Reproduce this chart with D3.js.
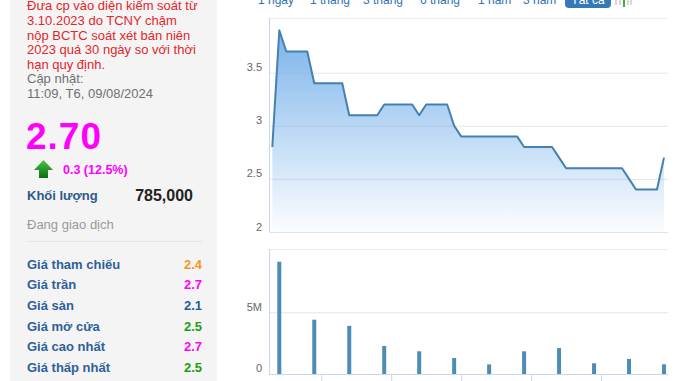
<!DOCTYPE html>
<html><head><meta charset="utf-8">
<script src="https://cdn.jsdelivr.net/npm/d3@7"></script>
<style>
html,body{margin:0;padding:0;background:#fff;}
svg{display:block;font-family:"Liberation Sans",Arial,sans-serif;}
</style></head>
<body><svg id="c" width="678" height="381"></svg>
<script>
// ---- data ----
const noticeLines = ["Đưa cp vào diện kiểm soát từ","3.10.2023 do TCNY chậm","nộp BCTC soát xét bán niên","2023 quá 30 ngày so với thời","hạn quy định."];
const updateLines = ["Cập nhật:","11:09, T6, 09/08/2024"];
const lastPrice = "2.70";
const change = "0.3 (12.5%)";
const volumeLabel = "Khối lượng";
const volumeValue = "785,000";
const statusText = "Đang giao dịch";
const infoLabels = ["Giá tham chiếu","Giá trần","Giá sàn","Giá mở cửa","Giá cao nhất","Giá thấp nhất"];
const infoValues = ["2.4","2.7","2.1","2.5","2.7","2.5"];
const infoColors = ["#f7941d","#ff00ff","#1f5f99","#1c9e10","#ff00ff","#1c9e10"];
const tabs = ["1 ngày","1 tháng","3 tháng","6 tháng","1 năm","3 năm"];
const activeTab = "Tất cả";
const prices = [2.8,3.9,3.7,3.7,3.7,3.7,3.4,3.4,3.4,3.4,3.4,3.1,3.1,3.1,3.1,3.1,3.2,3.2,3.2,3.2,3.2,3.1,3.2,3.2,3.2,3.2,3.0,2.9,2.9,2.9,2.9,2.9,2.9,2.9,2.9,2.9,2.8,2.8,2.8,2.8,2.8,2.7,2.6,2.6,2.6,2.6,2.6,2.6,2.6,2.6,2.6,2.5,2.4,2.4,2.4,2.4,2.7];
const volumeDays = [1,6,11,16,21,26,31,36,41,46,51,56];
const volumes = [9100000,4400000,3900000,2270000,1840000,1300000,780000,1840000,2100000,870000,1220000,785000];
const priceTicks = [2,2.5,3,3.5];
const priceTickLabels = ["2","2.5","3","3.5"];
const volTicks = [0,5000000];
const volTickLabels = ["0","5M"];
const xTickDays = [7,17,27,37,47];

const svg = d3.select("#c");

// ---- left panel ----
svg.append("rect").attr("x",10).attr("y",0).attr("width",207).attr("height",381).attr("fill","#f4f4f4");
const L = svg.append("g");
L.selectAll("text.n").data(noticeLines).join("text").attr("class","n")
 .attr("x",27).attr("y",(d,i)=>10.4+i*14.6).attr("font-size",13).attr("fill","#e3262b").text(d=>d);
L.selectAll("text.u").data(updateLines).join("text").attr("class","u")
 .attr("x",27).attr("y",(d,i)=>10.4+(i+5)*14.6).attr("font-size",13).attr("fill","#707070").text(d=>d);
L.append("text").attr("x",26).attr("y",149).attr("font-size",37).attr("font-weight","bold").attr("letter-spacing",1).attr("fill","#ff00ff").text(lastPrice);
const ag = svg.append("defs").append("linearGradient").attr("id","arr").attr("x1",0).attr("y1",0).attr("x2",0).attr("y2",1);
ag.append("stop").attr("offset","0").attr("stop-color","#4cc24a");
ag.append("stop").attr("offset","1").attr("stop-color","#0a6e10");
L.append("path").attr("d","M43.5,160 L53,170 L48,170 L48,178 L39,178 L39,170 L34,170 Z").attr("fill","url(#arr)");
L.append("text").attr("x",63).attr("y",174).attr("font-size",12.5).attr("font-weight","bold").attr("fill","#ff00ff").text(change);
L.append("text").attr("x",27).attr("y",200).attr("font-size",13).attr("font-weight","bold").attr("fill","#2d5a8c").text(volumeLabel);
L.append("text").attr("x",193).attr("y",200.5).attr("text-anchor","end").attr("font-size",16).attr("font-weight","bold").attr("fill","#222").text(volumeValue);
L.append("text").attr("x",27).attr("y",229).attr("font-size",13).attr("fill","#9a9a9a").text(statusText);
L.append("line").attr("x1",27).attr("x2",202).attr("y1",241.5).attr("y2",241.5).attr("stroke","#e4e4e4");
L.selectAll("text.il").data(infoLabels).join("text").attr("class","il")
 .attr("x",27).attr("y",(d,i)=>268.5+i*20.7).attr("font-size",13).attr("font-weight","bold").attr("fill","#2f5f9a").text(d=>d);
L.selectAll("text.iv").data(infoValues).join("text").attr("class","iv")
 .attr("x",202).attr("y",(d,i)=>268.5+i*20.7).attr("text-anchor","end").attr("font-size",13).attr("font-weight","bold").attr("fill",(d,i)=>infoColors[i]).text(d=>d);

// ---- tabs ----
const tabX = [258,310,363,420,478,523];
svg.selectAll("text.tab").data(tabs).join("text").attr("class","tab")
 .attr("x",(d,i)=>tabX[i]).attr("y",4).attr("font-size",12).attr("fill","#2f72b3").text(d=>d);
svg.append("rect").attr("x",565).attr("y",-10).attr("width",46).attr("height",18).attr("rx",4).attr("fill","#337ab7");
svg.append("text").attr("x",588).attr("y",4).attr("text-anchor","middle").attr("font-size",12).attr("fill","#fff").text(activeTab);
svg.append("g").attr("stroke","#b0b0b0").attr("stroke-width",1)
 .selectAll("line").data([616,620,628,631]).join("line").attr("x1",d=>d).attr("x2",d=>d).attr("y1",0).attr("y2",5);
svg.append("line").attr("x1",624).attr("x2",624).attr("y1",0).attr("y2",7).attr("stroke","#3cae3c").attr("stroke-width",2);

// ---- price chart ----
const PL=269, PR=668;
const x = d3.scaleLinear().domain([0,prices.length-1]).range([272.3,664]);
const yP = d3.scaleLinear().domain([2,4]).range([232,19.6]);
const yV = d3.scaleLinear().domain([0,10000000]).range([374,250.6]);

const grad = svg.select("defs").append("linearGradient").attr("id","ag").attr("gradientUnits","userSpaceOnUse")
 .attr("x1",0).attr("y1",yP(4)).attr("x2",0).attr("y2",yP(2));
grad.append("stop").attr("offset","0").attr("stop-color","#72aee8").attr("stop-opacity",1);
grad.append("stop").attr("offset","1").attr("stop-color","#7cb5ec").attr("stop-opacity",0.03);

svg.append("line").attr("x1",268).attr("x2",PR).attr("y1",18.5).attr("y2",18.5).attr("stroke","#ececec");
const gy = svg.append("g").attr("transform",`translate(${PL},0)`)
 .call(d3.axisLeft(yP).tickValues(priceTicks).tickFormat((d,i)=>priceTickLabels[i]).tickSize(-(PR-PL)).tickPadding(7));
gy.select(".domain").remove();
gy.selectAll(".tick line").attr("stroke","#e6e6e6");
gy.selectAll(".tick text").attr("fill","#666").attr("font-size",11).attr("dy","-0.18em").attr("font-family","Liberation Sans, Arial, sans-serif");

svg.append("path").datum(prices).attr("fill","url(#ag)")
 .attr("d",d3.area().x((d,i)=>x(i)).y0(yP(2)).y1(d=>yP(d)));
svg.append("path").datum(prices).attr("fill","none").attr("stroke","#4580b2").attr("stroke-width",2).attr("stroke-linejoin","round")
 .attr("d",d3.line().x((d,i)=>x(i)).y(d=>yP(d)));
svg.append("line").attr("x1",PL).attr("x2",PR).attr("y1",232.5).attr("y2",232.5).attr("stroke","#e3e3e3");
svg.append("line").attr("x1",PL+0.5).attr("x2",PL+0.5).attr("y1",18).attr("y2",232).attr("stroke","#ccd6eb");

// ---- volume chart ----
svg.append("line").attr("x1",268).attr("x2",PR).attr("y1",249.5).attr("y2",249.5).attr("stroke","#ececec");
const gv = svg.append("g").attr("transform",`translate(${PL},0)`)
 .call(d3.axisLeft(yV).tickValues(volTicks).tickFormat((d,i)=>volTickLabels[i]).tickSize(-(PR-PL)).tickPadding(7));
gv.select(".domain").remove();
gv.selectAll(".tick line").attr("stroke","#e6e6e6");
gv.selectAll(".tick text").attr("fill","#666").attr("font-size",11).attr("dy","-0.2em").attr("font-family","Liberation Sans, Arial, sans-serif");

svg.selectAll("rect.vb").data(volumes).join("rect").attr("class","vb")
 .attr("x",(d,i)=>x(volumeDays[i])-2).attr("width",4)
 .attr("y",d=>yV(d)).attr("height",d=>yV(0)-yV(d)).attr("fill","#4d8db5");

const gx = svg.append("g").attr("transform","translate(0,374)")
 .call(d3.axisBottom(x).tickValues(xTickDays).tickFormat("").tickSize(10).tickSizeOuter(0));
gx.select(".domain").attr("stroke","#ccd6eb").attr("d",`M${PL},0.5H${PR}`);
gx.selectAll(".tick line").attr("stroke","#ccd6eb");
svg.append("line").attr("x1",PL+0.5).attr("x2",PL+0.5).attr("y1",249).attr("y2",374).attr("stroke","#ccd6eb");
</script></body></html>
